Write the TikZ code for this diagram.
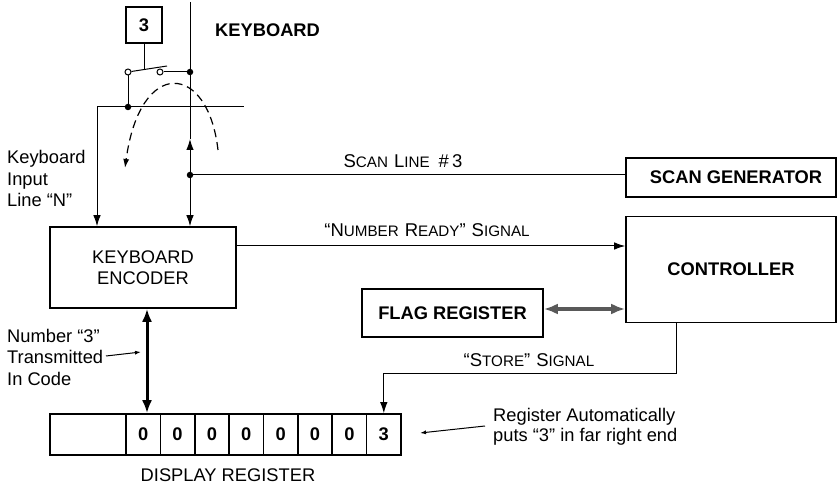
\documentclass[tikz,border=0pt]{standalone}
\usepackage{fontspec}
\setmainfont{Liberation Sans}
\usetikzlibrary{arrows.meta,calc}
\newcommand{\scx}[2]{{\fontsize{18.5}{20}\selectfont #1}{\fontsize{15.2}{16}\selectfont #2}}
\newcommand{\scsp}{\hspace{6pt}}
\begin{document}
\begin{tikzpicture}[x=1pt,y=-1pt,
  box/.style={draw, line width=1.6pt, inner sep=0pt},
  bfont/.style={font=\fontsize{18.3}{20}\selectfont\bfseries},
  rfont/.style={font=\fontsize{18.3}{21.5}\selectfont},
  wire/.style={line width=1pt},
  tip/.style={-{Latex[length=11pt,width=7.5pt]}},
  dot/.style={circle, fill, inner sep=0pt, minimum size=6.5pt},
  ocirc/.style={circle, draw, line width=1pt, fill=white, inner sep=0pt, minimum size=6pt},
  txt/.style={inner sep=0pt, align=left, font=\fontsize{18.3}{21.5}\selectfont}
]
\useasboundingbox (0,0) rectangle (839,484);

% boxes
\node[box, minimum width=36pt, minimum height=36pt, bfont] (key) at (144,25) {3};
\node[bfont, anchor=west, inner sep=0pt] (kblab) at (215,30) {KEYBOARD};
\node[box, minimum width=186pt, minimum height=81pt, rfont, align=center] (enc) at (143,267.5) {KEYBOARD\\ENCODER};
\node[box, minimum width=210pt, minimum height=39pt, bfont] (sg) at (731,177.5) {\hspace{10pt}SCAN GENERATOR};
\node[box, minimum width=210pt, minimum height=106pt, bfont] (ctrl) at (731,269.5) {CONTROLLER};
\node[box, minimum width=181pt, minimum height=48pt, bfont] (flag) at (452.5,313) {FLAG REGISTER};

% display register
\node[box, minimum width=76pt, minimum height=41pt] (r0) at (88,434.5) {};
\foreach \i/\d in {1/0,2/0,3/0,4/0,5/0,6/0,7/0,8/3}
  \node[box, minimum width=34.4pt, minimum height=41pt, bfont] (r\i) at ({126+34.375*(\i-0.5)},434.5) {\d};

% switch
\coordinate (top) at (190,2);
\coordinate (lvr) at (167,66);
\coordinate (stem) at (144,69);
\coordinate (hl) at (97,107);
\coordinate (hr) at (244,107);
\coordinate (up) at (190,139);
\draw[wire] (key.south) -- (stem);
\draw[wire] (top) -- (up);
\draw[wire] (hl) -- (hr);
\node[dot] (d1) at (190,72) {};
\node[dot] (d2) at (128,107) {};
\node[dot] (d3) at (190,175) {};
\node[ocirc] (c1) at (128,72) {};
\node[ocirc] (c2) at (160,72) {};
\draw[wire] (c1) -- (lvr);
\draw[wire] (c2) -- (d1);
\draw[wire] (c1) -- (d2);

% dashed current path
\coordinate (a1) at (218,150);
\coordinate (a2) at (125,168);
\draw[line width=1.2pt, dash pattern=on 8pt off 5pt, -{Latex[length=9pt,width=6pt]}] (a1) .. controls (208,62) and (140,57) .. (a2);

% lines to encoder
\draw[wire,tip] (hl) -- (hl |- enc.north);
\draw[wire,tip] (d3) -- (up);
\draw[wire,tip] (d3) -- (d3 |- enc.north);

% scan line
\draw[wire] (d3) -- (d3 -| sg.west);
\node[inner sep=0pt] (sl) at (403,161) {\scx{S}{CAN}\scsp\scx{L}{INE}\hspace{9pt}{\fontsize{18.5}{20}\selectfont\#\,3}};

% number ready
\coordinate (nr) at (400,246);
\draw[wire,tip] (enc.east |- nr) -- (ctrl.west |- nr);
\node[inner sep=0pt] (nrl) at (427,230) {{\fontsize{18.5}{20}\selectfont``}\scx{N}{UMBER}\scsp\scx{R}{EADY}{\fontsize{18.5}{20}\selectfont''}\scsp\scx{S}{IGNAL}};

% flag
\coordinate (fy) at (600,309);
\draw[line width=4pt, color=black!65, {Latex[length=14pt,width=11pt]}-{Latex[length=14pt,width=11pt]}] (flag.east |- fy) -- (ctrl.west |- fy);

% encoder to register
\coordinate (tx) at (147,360);
\draw[line width=3pt, {Latex[length=13pt,width=10pt]}-{Latex[length=13pt,width=10pt]}] (enc.south -| tx) -- (r1.north -| tx);

% store
\coordinate (st1) at (676,373);
\draw[wire,tip] (ctrl.south -| st1) |- (r8.north |- st1) -- (r8.north);
\node[inner sep=0pt] (stl) at (529,360) {{\fontsize{18.5}{20}\selectfont``}\scx{S}{TORE}{\fontsize{18.5}{20}\selectfont''}\scsp\scx{S}{IGNAL}};

% left labels
\node[txt, anchor=west] (kil) at (7,178.5) {Keyboard\\Input\\Line ``N''};
\node[txt, anchor=west] (ntl) at (7,357) {Number ``3''\\Transmitted\\In Code};
\coordinate (ta) at (106,356);
\coordinate (tb) at (141,352);
\draw[wire, -{Latex[length=6pt,width=4pt]}] (ta) -- (tb);

% right label
\node[txt, anchor=west, font=\fontsize{18.3}{20.5}\selectfont] (ral) at (493,427) {Register Automatically\\puts ``3'' in far right end};
\coordinate (pa) at (485,426);
\coordinate (pb) at (420,433);
\draw[wire, -{Latex[length=6pt,width=4pt]}] (pa) -- (pb);

\node[rfont] (drl) at (228,475) {DISPLAY REGISTER};
\end{tikzpicture}
\end{document}
